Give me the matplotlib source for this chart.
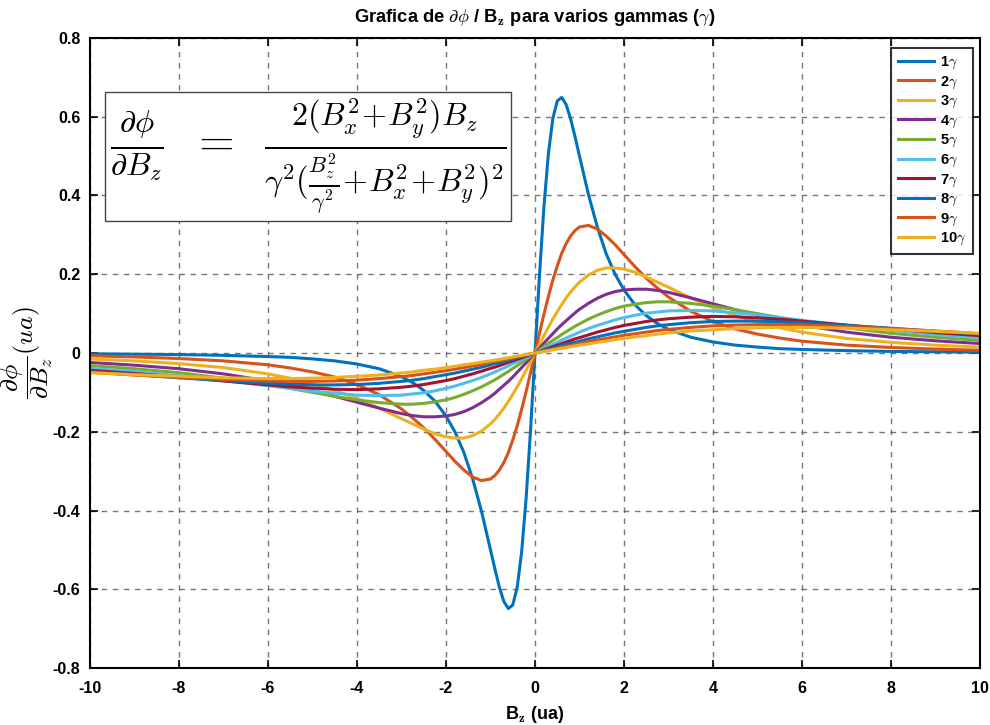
import numpy as np
import matplotlib
matplotlib.use("Agg")
import matplotlib.pyplot as plt

plt.rcParams['font.family'] = ['Liberation Sans', 'DejaVu Sans']
plt.rcParams['mathtext.fontset'] = 'cm'

# Bz values (ua)
bz = [-10, -9, -8, -7, -6, -5.5, -5, -4.5, -4, -3.5, -3, -2.75, -2.5, -2.25, -2,
      -1.8, -1.6, -1.4, -1.2, -1, -0.9, -0.8, -0.7, -0.6, -0.5, -0.4, -0.3, -0.2, -0.1,
      0,
      0.1, 0.2, 0.3, 0.4, 0.5, 0.6, 0.7, 0.8, 0.9, 1, 1.2, 1.4, 1.6, 1.8,
      2, 2.25, 2.5, 2.75, 3, 3.5, 4, 4.5, 5, 5.5, 6, 7, 8, 9, 10]

g1 = [-0.002, -0.003, -0.004, -0.006, -0.009, -0.011, -0.015, -0.020, -0.028, -0.040, -0.060, -0.075, -0.095, -0.122, -0.160,
      -0.200, -0.252, -0.320, -0.403, -0.500, -0.549, -0.595, -0.631, -0.649, -0.640, -0.595, -0.505, -0.370, -0.196,
      0,
      0.196, 0.370, 0.505, 0.595, 0.640, 0.649, 0.631, 0.595, 0.549, 0.500, 0.403, 0.320, 0.252, 0.200,
      0.160, 0.122, 0.095, 0.075, 0.060, 0.040, 0.028, 0.020, 0.015, 0.011, 0.009, 0.006, 0.004, 0.003, 0.002]
g2 = [-0.007, -0.010, -0.014, -0.020, -0.030, -0.038, -0.048, -0.061, -0.080, -0.106, -0.142, -0.165, -0.190, -0.219, -0.250,
      -0.275, -0.297, -0.315, -0.324, -0.320, -0.311, -0.297, -0.278, -0.253, -0.221, -0.185, -0.143, -0.098, -0.050,
      0,
      0.050, 0.098, 0.143, 0.185, 0.221, 0.253, 0.278, 0.297, 0.311, 0.320, 0.324, 0.315, 0.297, 0.275,
      0.250, 0.219, 0.190, 0.165, 0.142, 0.106, 0.080, 0.061, 0.048, 0.038, 0.030, 0.020, 0.014, 0.010, 0.007]
g3 = [-0.015, -0.020, -0.027, -0.037, -0.053, -0.064, -0.078, -0.095, -0.115, -0.140, -0.167, -0.180, -0.193, -0.205, -0.213,
      -0.216, -0.216, -0.210, -0.198, -0.180, -0.168, -0.155, -0.140, -0.123, -0.105, -0.086, -0.065, -0.044, -0.022,
      0,
      0.022, 0.044, 0.065, 0.086, 0.105, 0.123, 0.140, 0.155, 0.168, 0.180, 0.198, 0.210, 0.216, 0.216,
      0.213, 0.205, 0.193, 0.180, 0.167, 0.140, 0.115, 0.095, 0.078, 0.064, 0.053, 0.037, 0.027, 0.020, 0.015]
g4 = [-0.024, -0.031, -0.040, -0.053, -0.071, -0.082, -0.095, -0.110, -0.125, -0.140, -0.154, -0.159, -0.162, -0.162, -0.160,
      -0.156, -0.149, -0.139, -0.126, -0.111, -0.102, -0.092, -0.082, -0.072, -0.061, -0.049, -0.037, -0.025, -0.012,
      0,
      0.012, 0.025, 0.037, 0.049, 0.061, 0.072, 0.082, 0.092, 0.102, 0.111, 0.126, 0.139, 0.149, 0.156,
      0.160, 0.162, 0.162, 0.159, 0.154, 0.140, 0.125, 0.110, 0.095, 0.082, 0.071, 0.053, 0.040, 0.031, 0.024]
g5 = [-0.032, -0.040, -0.050, -0.064, -0.081, -0.090, -0.100, -0.110, -0.119, -0.126, -0.130, -0.130, -0.128, -0.124, -0.119,
      -0.113, -0.105, -0.096, -0.086, -0.074, -0.068, -0.061, -0.054, -0.047, -0.039, -0.032, -0.024, -0.016, -0.008,
      0,
      0.008, 0.016, 0.024, 0.032, 0.039, 0.047, 0.054, 0.061, 0.068, 0.074, 0.086, 0.096, 0.105, 0.113,
      0.119, 0.124, 0.128, 0.130, 0.130, 0.126, 0.119, 0.110, 0.100, 0.090, 0.081, 0.064, 0.050, 0.040, 0.032]
g6 = [-0.039, -0.047, -0.058, -0.070, -0.083, -0.090, -0.097, -0.102, -0.107, -0.108, -0.107, -0.104, -0.101, -0.096, -0.090,
      -0.084, -0.077, -0.070, -0.062, -0.053, -0.048, -0.043, -0.038, -0.033, -0.027, -0.022, -0.017, -0.011, -0.006,
      0,
      0.006, 0.011, 0.017, 0.022, 0.027, 0.033, 0.038, 0.043, 0.048, 0.053, 0.062, 0.070, 0.077, 0.084,
      0.090, 0.096, 0.101, 0.104, 0.107, 0.108, 0.107, 0.102, 0.097, 0.090, 0.083, 0.070, 0.058, 0.047, 0.039]
g7 = [-0.044, -0.052, -0.061, -0.071, -0.081, -0.086, -0.089, -0.092, -0.093, -0.091, -0.087, -0.084, -0.080, -0.075, -0.070,
      -0.065, -0.059, -0.053, -0.046, -0.039, -0.036, -0.032, -0.028, -0.024, -0.020, -0.016, -0.012, -0.008, -0.004,
      0,
      0.004, 0.008, 0.012, 0.016, 0.020, 0.024, 0.028, 0.032, 0.036, 0.039, 0.046, 0.053, 0.059, 0.065,
      0.070, 0.075, 0.080, 0.084, 0.087, 0.091, 0.093, 0.092, 0.089, 0.086, 0.081, 0.071, 0.061, 0.052, 0.044]
g8 = [-0.048, -0.055, -0.063, -0.070, -0.077, -0.079, -0.081, -0.081, -0.080, -0.077, -0.072, -0.069, -0.065, -0.060, -0.055,
      -0.051, -0.046, -0.041, -0.036, -0.030, -0.027, -0.025, -0.022, -0.019, -0.016, -0.012, -0.009, -0.006, -0.003,
      0,
      0.003, 0.006, 0.009, 0.012, 0.016, 0.019, 0.022, 0.025, 0.027, 0.030, 0.036, 0.041, 0.046, 0.051,
      0.055, 0.060, 0.065, 0.069, 0.072, 0.077, 0.080, 0.081, 0.081, 0.079, 0.077, 0.070, 0.063, 0.055, 0.048]
g9 = [-0.049, -0.056, -0.062, -0.067, -0.071, -0.072, -0.072, -0.071, -0.069, -0.065, -0.060, -0.057, -0.053, -0.049, -0.045,
      -0.041, -0.037, -0.033, -0.029, -0.024, -0.022, -0.019, -0.017, -0.015, -0.012, -0.010, -0.007, -0.005, -0.002,
      0,
      0.002, 0.005, 0.007, 0.010, 0.012, 0.015, 0.017, 0.019, 0.022, 0.024, 0.029, 0.033, 0.037, 0.041,
      0.045, 0.049, 0.053, 0.057, 0.060, 0.065, 0.069, 0.071, 0.072, 0.072, 0.071, 0.067, 0.062, 0.056, 0.049]
g10 = [-0.050, -0.055, -0.059, -0.063, -0.065, -0.065, -0.064, -0.062, -0.059, -0.056, -0.051, -0.048, -0.044, -0.041, -0.037,
       -0.034, -0.030, -0.027, -0.023, -0.020, -0.018, -0.016, -0.014, -0.012, -0.010, -0.008, -0.006, -0.004, -0.002,
       0,
       0.002, 0.004, 0.006, 0.008, 0.010, 0.012, 0.014, 0.016, 0.018, 0.020, 0.023, 0.027, 0.030, 0.034,
       0.037, 0.041, 0.044, 0.048, 0.051, 0.056, 0.059, 0.062, 0.064, 0.065, 0.065, 0.063, 0.059, 0.055, 0.050]

series = [g1, g2, g3, g4, g5, g6, g7, g8, g9, g10]
labels = [str(i) + r'$\gamma$' for i in range(1, 11)]

# colores por defecto de MATLAB (se repiten a partir del 8)
colors = ['#0072BD', '#D95319', '#EDB120', '#7E2F8E', '#77AC30',
          '#4DBEEE', '#A2142F', '#0072BD', '#D95319', '#EDB120']

fig = plt.figure(figsize=(9.9, 7.25), dpi=100)
ax = fig.add_axes([0.0909, 0.0786, 0.899, 0.869])

for y, c, lab in zip(series, colors, labels):
    ax.plot(bz, y, color=c, linewidth=2.2, label=lab)

ax.set_xlim(-10, 10)
ax.set_ylim(-0.8, 0.8)
ax.set_xticks(np.arange(-10, 11, 2))
ax.set_yticks(np.round(np.arange(-0.8, 0.81, 0.2), 1))
ax.set_xticklabels([str(v) for v in range(-10, 11, 2)])
ax.set_yticklabels(['-0.8', '-0.6', '-0.4', '-0.2', '0', '0.2', '0.4', '0.6', '0.8'])
ax.tick_params(direction='in', top=True, right=True, length=6, width=1.2,
               labelsize=11.5)
ax.tick_params(axis='x', pad=9)
ax.tick_params(axis='y', pad=7)
for lbl in ax.get_xticklabels() + ax.get_yticklabels():
    lbl.set_fontweight('bold')
for sp in ax.spines.values():
    sp.set_linewidth(1.5)
ax.grid(True, linestyle=(0, (4, 4)), color='#555555', linewidth=1.0, alpha=0.8)

ax.set_title(r'Grafica de $\partial\phi$ / B$_\mathbf{z}$ para varios gammas ($\gamma$)',
             fontsize=13.2, fontweight='bold', pad=11.5)
ax.set_xlabel(r'B$_\mathbf{z}$ (ua)', fontsize=13, fontweight='bold', labelpad=6)
ax.set_ylabel(r'$\dfrac{\partial\phi}{\partial B_z}(ua)$', fontsize=18.5)
ax.yaxis.set_label_coords(-0.0705, 0.5)
ax.yaxis.label.set_va('center')

ax.text(-9.55, 0.5,
        r'$\frac{\partial\phi}{\partial B_z}\;\;=\;\;\frac{2(B_x^2\!+\!B_y^2)B_z}{\gamma^2(\frac{B_z^2}{\gamma^2}\!+\!B_x^2\!+\!B_y^2)^2}$',
        fontsize=33, va='center', ha='left',
        bbox=dict(boxstyle='square,pad=0.1', facecolor='white', edgecolor='#444444', linewidth=1.0))

leg = ax.legend(loc='upper right', fontsize=10.5, frameon=True, fancybox=False,
                handlelength=2.5, handletextpad=0.4, labelspacing=0.22, borderpad=0.45,
                borderaxespad=0, bbox_to_anchor=(0.992, 0.984))
leg.get_frame().set_edgecolor('black')
leg.get_frame().set_linewidth(1.5)
for t in leg.get_texts():
    t.set_fontweight('bold')

fig.savefig('out.png', dpi=100)
